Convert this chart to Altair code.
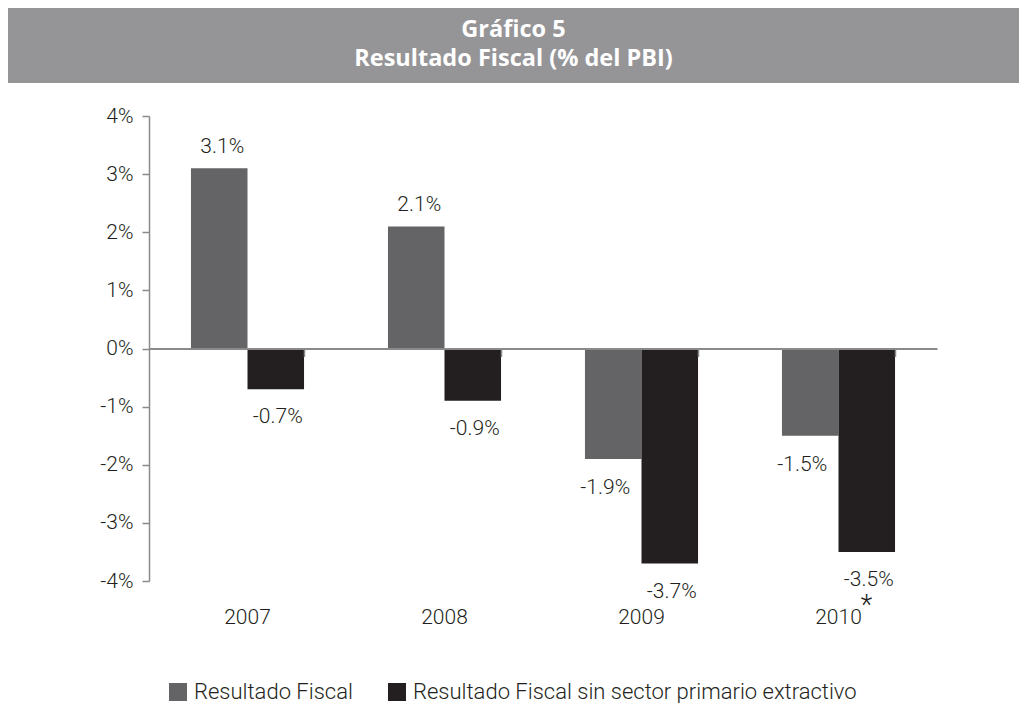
import altair as alt
import pandas as pd

# ---- data ----
years = ["2007", "2008", "2009", "2010"]
series = ["Resultado Fiscal", "Resultado Fiscal sin sector primario  extractivo"]
fiscal = [3.1, 2.1, -1.9, -1.5]
sin_primario = [-0.7, -0.9, -3.7, -3.5]
y_ticks = [-4, -3, -2, -1, 0, 1, 2, 3, 4]
title_lines = ["Gráfico 5", "Resultado Fiscal (% del PBI)"]
footnote_year = ["2010"]
footnote_mark = ["*"]

rows = []
for i, yr in enumerate(years):
    rows.append({"year": yr, "serie": series[0], "value": fiscal[i]})
    rows.append({"year": yr, "serie": series[1], "value": sin_primario[i]})
df = pd.DataFrame(rows)
df["label"] = [f"{v:.1f}%" for v in df["value"]]

FONT = "Roboto"
FW = 300
FS = 21
TXT = "#231f20"
AXC = "#8a8a8a"
BANNER = "#959598"
W, H = 788, 465

x_scale = alt.Scale(domain=years, paddingInner=0.426, paddingOuter=0.213)
y_scale = alt.Scale(domain=[-4, 4], nice=False, zero=False)
off_scale = alt.Scale(domain=series, paddingInner=0, paddingOuter=0)
color_scale = alt.Scale(domain=series, range=["#646466", "#231f20"])

axis_labels = alt.Axis(orient="bottom", domain=False, ticks=False, tickSize=0,
                       labelFont=FONT, labelFontWeight=FW, labelFontSize=FS,
                       labelColor=TXT, labelPadding=25, labelAngle=0, title=None)
axis_zero = alt.Axis(orient="bottom", offset=-H / 2, domain=True, domainColor=AXC,
                     domainWidth=2, ticks=True, tickColor=AXC, tickSize=8,
                     tickWidth=1.5, bandPosition=1, labels=False, zindex=1,
                     title=None, grid=False)

base = alt.Chart(df)

bars = base.mark_bar().encode(
    x=alt.X("year:N", scale=x_scale, sort=years, axis=axis_labels),
    xOffset=alt.XOffset("serie:N", sort=series, scale=off_scale),
    y=alt.Y("value:Q", scale=y_scale, title=None,
            axis=alt.Axis(values=y_ticks, labelExpr="datum.value + '%'", grid=False,
                          domainColor=AXC, domainWidth=1.5, tickColor=AXC,
                          tickSize=7, tickWidth=1.5, labelFont=FONT,
                          labelFontWeight=FW, labelFontSize=FS, labelColor=TXT,
                          labelPadding=9)),
    color=alt.Color("serie:N", scale=color_scale, sort=series,
                    legend=alt.Legend(orient="none", legendX=18, legendY=565,
                                      direction="horizontal", title=None,
                                      symbolType="square", symbolSize=324,
                                      symbolStrokeWidth=0, symbolOpacity=1,
                                      labelFont=FONT, labelFontWeight=FW,
                                      labelFontSize=22, labelColor=TXT,
                                      labelLimit=700, columnPadding=33,
                                      labelOffset=5, padding=0)),
)

pos_text = base.transform_filter("datum.value >= 0").mark_text(
    font=FONT, fontWeight=FW, fontSize=FS, color=TXT, baseline="middle", dy=-21, dx=3
).encode(
    x=alt.X("year:N", scale=x_scale, sort=years, axis=axis_zero),
    xOffset=alt.XOffset("serie:N", sort=series, scale=off_scale),
    y=alt.Y("value:Q", scale=y_scale, title=None),
    text="label:N",
)

neg_black = base.transform_filter(
    f"datum.value < 0 && datum.serie == '{series[1]}'"
).mark_text(font=FONT, fontWeight=FW, fontSize=FS, color=TXT, baseline="middle",
            dy=28, dx=2).encode(
    x=alt.X("year:N", scale=x_scale, sort=years, axis=None),
    xOffset=alt.XOffset("serie:N", sort=series, scale=off_scale),
    y=alt.Y("value:Q", scale=y_scale, title=None),
    text="label:N",
)

neg_gray = base.transform_filter(
    f"datum.value < 0 && datum.serie == '{series[0]}'"
).mark_text(font=FONT, fontWeight=FW, fontSize=FS, color=TXT, baseline="middle",
            dy=29, dx=-8).encode(
    x=alt.X("year:N", scale=x_scale, sort=years, axis=None),
    xOffset=alt.XOffset("serie:N", sort=series, scale=off_scale),
    y=alt.Y("value:Q", scale=y_scale, title=None),
    text="label:N",
)

ast_df = pd.DataFrame({"year": footnote_year, "mark": footnote_mark, "v": [y_ticks[0]]})
asterisk = alt.Chart(ast_df).mark_text(
    font=FONT, fontWeight=FW, fontSize=27, color=TXT, baseline="alphabetic",
    dx=28, dy=33
).encode(
    x=alt.X("year:N", scale=x_scale, sort=years, axis=None),
    y=alt.Y("v:Q", scale=y_scale, title=None),
    text="mark:N",
)

# header banner (decoration above the plot area)
banner_rect = alt.Chart(pd.DataFrame({"t": [""]})).mark_rect(
    color=BANNER, strokeWidth=0
).encode(
    x=alt.value(-141), x2=alt.value(W + 82),
    y=alt.value(-108), y2=alt.value(-33),
)
banner_text = alt.Chart(pd.DataFrame({"t": ["\n".join(title_lines)]})).mark_text(
    lineBreak="\n", font="Open Sans", fontWeight="bold", fontSize=23.5,
    color="white", lineHeight=29, align="center", baseline="alphabetic"
).encode(
    x=alt.value((W + 82 - 141) / 2), y=alt.value(-79), text="t:N"
)

chart = alt.layer(
    banner_rect, banner_text, bars, pos_text, neg_black, neg_gray, asterisk
).resolve_axis(x="independent").properties(
    width=W, height=H, padding=0
).configure_view(stroke=None)

chart.save("out.html", embed_options={"renderer": "svg", "actions": False})
